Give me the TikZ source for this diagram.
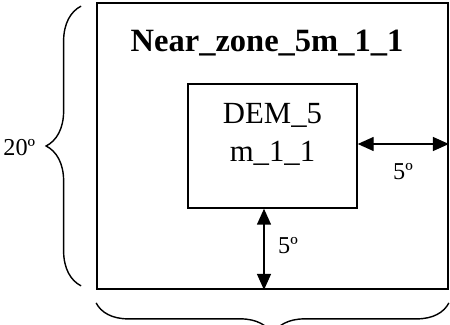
\documentclass[tikz,border=0pt]{standalone}
\usepackage{fontspec}
\setmainfont{Liberation Serif}
\usetikzlibrary{arrows.meta,decorations.pathreplacing}

\begin{document}
\begin{tikzpicture}[
    zonebox/.style={draw=black,line width=1pt,inner sep=0pt},
    gaparrow/.style={{Triangle[length=0.32cm,width=0.28cm]}-{Triangle[length=0.32cm,width=0.28cm]},line width=0.8pt},
    spanbrace/.style={decorate,decoration={brace,amplitude=#1},line width=0.8pt},
    anglelabel/.style={inner sep=0pt,font=\fontsize{13.8}{16}\selectfont}]
  \useasboundingbox (0,0) rectangle (9,-6.5);

  \node[zonebox,minimum width=7.02cm,minimum height=5.72cm] (zone) at (5.45,-2.92) {};
  \node[anchor=base,inner sep=0pt,font=\fontsize{18.5}{22}\selectfont\bfseries]
        (zonetitle) at (5.34,-1.04) {Near\_zone\_5m\_1\_1};

  \node[zonebox,line width=0.8pt,minimum width=3.38cm,minimum height=2.48cm] (dem) at (5.45,-2.92) {};
  \node[inner sep=0pt,align=center,font=\fontsize{17.5}{21.6}\selectfont]
        (demtext) at (5.45,-2.68) {DEM\_5\\m\_1\_1};

  % gaps between the two boxes
  \draw[gaparrow] ([yshift=0.04cm]dem.east) -- ([yshift=0.04cm]dem.east -| zone.east);
  \node[anglelabel] (gapright) at (8.06,-3.44) {5º};
  \draw[gaparrow] ([xshift=-0.17cm]dem.south) -- ([xshift=-0.17cm]dem.south |- zone.south);
  \node[anglelabel] (gapbottom) at (5.76,-4.92) {5º};

  % extent of the outer zone
  \draw[spanbrace=0.7cm] ([xshift=-0.3cm,yshift=0.08cm]zone.south west) -- ([xshift=-0.3cm,yshift=-0.08cm]zone.north west);
  \node[anglelabel,anchor=east] (span) at (0.71,-2.96) {20º};
  \draw[spanbrace=0.64cm] ([yshift=-0.26cm]zone.south east) -- ([yshift=-0.26cm]zone.south west);
\end{tikzpicture}
\end{document}
